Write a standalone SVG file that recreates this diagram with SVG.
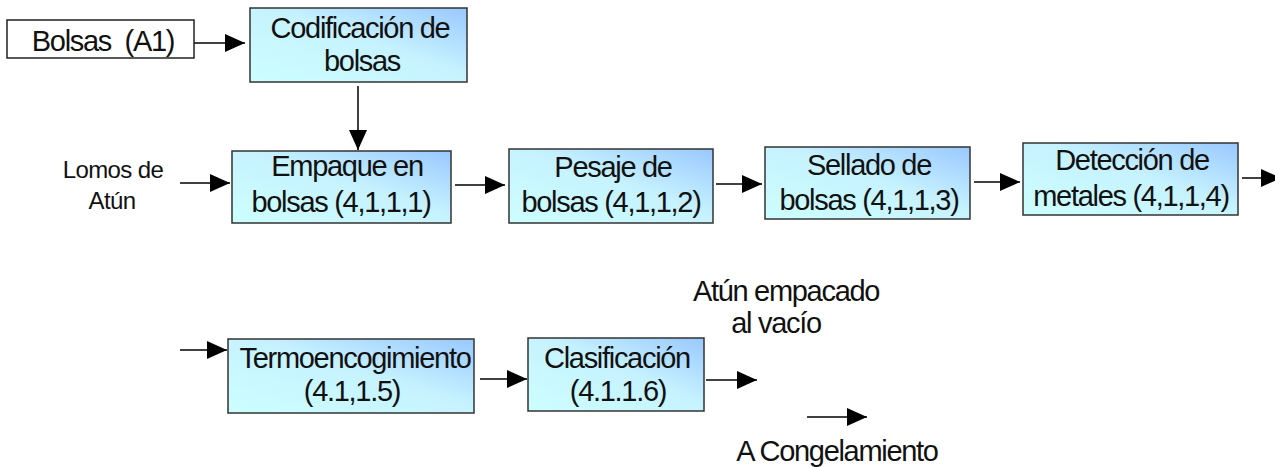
<svg xmlns="http://www.w3.org/2000/svg" width="1275" height="467" viewBox="0 0 1275 467">
<style>
.box{stroke:#333;stroke-width:1.5;fill:url(#g)}
.plain{stroke:#222;stroke-width:1.5;fill:#fff}
text{font-family:"Liberation Sans",Arial,sans-serif;font-size:29px;fill:#111;text-anchor:middle;letter-spacing:-1.3px}
.sm{font-size:24px;letter-spacing:-0.6px}
.c line{stroke:#000;stroke-width:1.5;marker-end:url(#ah)}
</style>
<defs>
<linearGradient id="g" x1="0" y1="1" x2="1" y2="0">
<stop offset="0" stop-color="#ccffff"/>
<stop offset="0.55" stop-color="#c6f2ff"/>
<stop offset="1" stop-color="#99c8ff"/>
</linearGradient>
<marker id="ah" viewBox="0 0 20 18" refX="20" refY="9" markerWidth="20" markerHeight="18" markerUnits="userSpaceOnUse" orient="auto">
<path d="M0,0 L20,9 L0,18 z" fill="#000"/>
</marker>
</defs>
<g class="c" id="connectors">
<line x1="194" y1="43" x2="245" y2="43"/>
<line x1="358" y1="86" x2="358" y2="150"/>
<line x1="180" y1="183" x2="230" y2="183"/>
<line x1="455" y1="185" x2="505" y2="185"/>
<line x1="716" y1="184" x2="762" y2="184"/>
<line x1="974" y1="182" x2="1020" y2="182"/>
<line x1="1242" y1="178" x2="1281" y2="178"/>
<line x1="180" y1="350" x2="227" y2="350"/>
<line x1="480" y1="379" x2="527" y2="379"/>
<line x1="706" y1="380" x2="757" y2="380"/>
<line x1="807" y1="417" x2="867" y2="417"/>
</g>
<g id="bolsas">
<rect class="plain" x="7" y="20" width="187" height="38"/>
<text x="103" y="51">Bolsas&#160; (A1)</text>
</g>
<g id="codificacion">
<rect class="box" x="250" y="8" width="217" height="74"/>
<text x="360" y="38">Codificación de</text>
<text x="362" y="71">bolsas</text>
</g>
<g id="lomos">
<text class="sm" x="113" y="178">Lomos de</text>
<text class="sm" x="112" y="209">Atún</text>
</g>
<g id="empaque">
<rect class="box" x="232" y="151" width="219" height="72"/>
<text x="347" y="176">Empaque en</text>
<text x="341" y="212">bolsas (4,1,1,1)</text>
</g>
<g id="pesaje">
<rect class="box" x="509" y="149" width="204" height="74"/>
<text x="613" y="177">Pesaje de</text>
<text x="611" y="212">bolsas (4,1,1,2)</text>
</g>
<g id="sellado">
<rect class="box" x="765" y="147" width="205" height="72"/>
<text x="869" y="175">Sellado de</text>
<text x="869" y="210">bolsas (4,1,1,3)</text>
</g>
<g id="deteccion">
<rect class="box" x="1023" y="143" width="215" height="72"/>
<text x="1132" y="170">Detección de</text>
<text x="1131" y="206">metales (4,1,1,4)</text>
</g>
<g id="termo">
<rect class="box" x="228" y="339" width="246" height="74"/>
<text x="355" y="368">Termoencogimiento</text>
<text x="352" y="401">(4.1,1.5)</text>
</g>
<g id="clasificacion">
<rect class="box" x="528" y="338" width="176" height="73"/>
<text x="617" y="368">Clasificación</text>
<text x="618" y="401">(4.1.1.6)</text>
</g>
<g id="atun-empacado">
<text x="786" y="301">Atún empacado</text>
<text x="776" y="333">al vacío</text>
</g>
<g id="congelamiento">
<text x="837" y="461">A Congelamiento</text>
</g>
</svg>
